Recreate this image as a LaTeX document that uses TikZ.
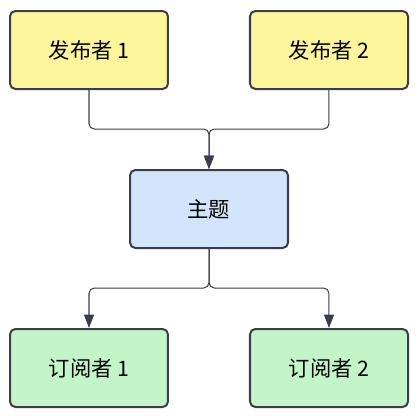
\documentclass[tikz,border=0pt]{standalone}
\usepackage{fontspec}
\setmainfont{Noto Sans CJK SC}
\usetikzlibrary{arrows.meta,positioning}
\definecolor{boxline}{HTML}{3A3E4A}
\definecolor{pubfill}{HTML}{FFF59D}
\definecolor{topicfill}{HTML}{D2E5FD}
\definecolor{subfill}{HTML}{C4F5C9}
\definecolor{linkgray}{HTML}{3A3E4A}

\begin{document}
\begin{tikzpicture}[x=0.75pt, y=-0.75pt,
    box/.style={rectangle, draw=boxline, line width=1.5pt, rounded corners=4pt, minimum width=118.5pt, minimum height=58.5pt, align=center, font=\fontsize{16}{19}\selectfont},
    pub/.style={box, fill=pubfill},
    topic/.style={box, fill=topicfill},
    sub/.style={box, fill=subfill},
    link/.style={draw=linkgray, line width=0.75pt, rounded corners=4pt},
    arr/.style={link, -{Triangle[length=10pt, width=7.5pt]}}]
    \useasboundingbox (0,0) rectangle (419,418);
    \node[pub] (pub1) at (89,50) {发布者 1};
    \node[pub] (pub2) at (329,50) {发布者 2};
    \node[topic] (topic) at (209,209) {主题};
    \node[sub] (sub1) at (89,368) {订阅者 1};
    \node[sub] (sub2) at (329,368) {订阅者 2};

    \coordinate (jtop) at (209,129);
    \coordinate (jbot) at (209,288);
    \draw[arr] (pub1.south) |- (jtop) -- (topic.north);
    \draw[arr] (pub2.south) |- (jtop) -- (topic.north);
    \draw[arr] (topic.south) -- (jbot) -| (sub1.north);
    \draw[arr] (topic.south) -- (jbot) -| (sub2.north);
\end{tikzpicture}
\end{document}
